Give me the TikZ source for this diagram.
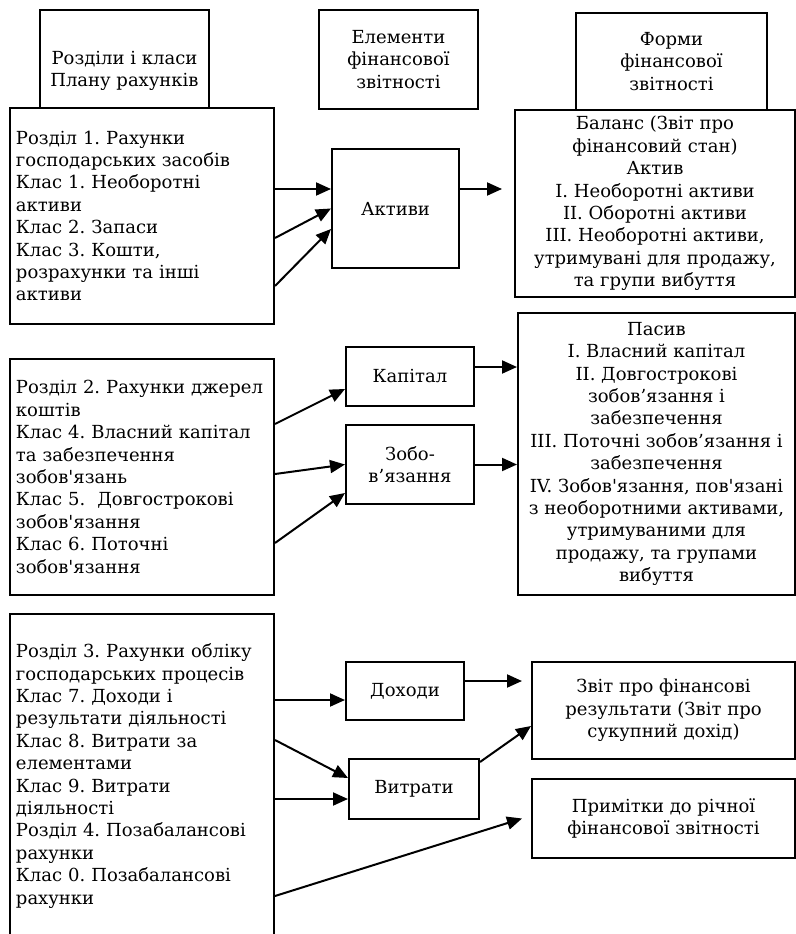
\documentclass[tikz,border=0pt]{standalone}
\usepackage{fontspec}
\setmainfont{DejaVu Serif}[Ligatures=TeXOff]
\usepackage{tikz}
\usetikzlibrary{arrows.meta}
\frenchspacing

\begin{document}
\begin{tikzpicture}[
    x=1pt, y=-1pt,
    >={Triangle[length=15pt, width=13pt]},
    box/.style={draw, line width=2pt, fill=white, align=center, inner sep=0pt,
        font=\fontsize{18}{22.4}\selectfont},
    lbox/.style={box, align=left, text width=252pt, inner xsep=6pt},
    arr/.style={->, line width=2pt}
]
\useasboundingbox (0,0) rectangle (795,934);

% Headers :
\node[box, anchor=north west, minimum width=169pt, minimum height=122pt] (hdrA) at (39,9)
    {Розділи і класи\\Плану рахунків};
\node[box, anchor=north west, minimum width=159pt, minimum height=99pt] (hdrB) at (318,9)
    {Елементи\\фінансової\\звітності};
\node[box, anchor=north west, minimum width=191pt, minimum height=97pt] (hdrC) at (575,12)
    {Форми\\фінансової\\звітності};

% Sections of the chart of accounts :
\node[lbox, anchor=north west, minimum height=216pt] (secA) at (9,107)
    {Розділ 1. Рахунки\\господарських засобів\\Клас 1. Необоротні\\активи\\Клас 2. Запаси\\Клас 3. Кошти,\\розрахунки та інші\\активи};
\node[lbox, anchor=north west, minimum height=236pt] (secB) at (9,358)
    {Розділ 2. Рахунки джерел\\коштів\\Клас 4. Власний капітал\\та забезпечення\\зобов'язань\\Клас 5.\ \ Довгострокові\\зобов'язання\\Клас 6. Поточні\\зобов'язання};
\node[lbox, anchor=north west, minimum height=324pt] (secC) at (9,613)
    {Розділ 3. Рахунки обліку\\господарських процесів\\Клас 7. Доходи і\\результати діяльності\\Клас 8. Витрати за\\елементами\\Клас 9. Витрати\\діяльності\\Розділ 4. Позабалансові\\рахунки\\Клас 0. Позабалансові\\рахунки};

% Elements :
\node[box, anchor=north west, minimum width=127pt, minimum height=119pt] (aktyvy) at (331,148) {Активи};
\node[box, anchor=north west, minimum width=128pt, minimum height=59pt] (kapital) at (345,346) {Капітал};
\node[box, anchor=north west, minimum width=128pt, minimum height=79pt] (zobov) at (345,424) {Зобо-\\в’язання};
\node[box, anchor=north west, minimum width=118pt, minimum height=58pt] (dohody) at (345,661) {Доходи};
\node[box, anchor=north west, minimum width=130pt, minimum height=60pt] (vytraty) at (348,758) {Витрати};

% Forms :
\node[box, anchor=north west, minimum width=280pt, minimum height=187pt] (balans) at (514,109)
    {Баланс (Звіт про\\фінансовий стан)\\Актив\\I. Необоротні активи\\II. Оборотні активи\\III. Необоротні активи,\\утримувані для продажу,\\та групи вибуття};
\node[box, anchor=north west, minimum width=277pt, minimum height=282pt] (pasyv) at (517,312)
    {Пасив\\I. Власний капітал\\II. Довгострокові\\зобов’язання і\\забезпечення\\III. Поточні зобов’язання і\\забезпечення\\IV. Зобов'язання, пов'язані\\з необоротними активами,\\утримуваними для\\продажу, та групами\\вибуття};
\node[box, anchor=north west, minimum width=263pt, minimum height=97pt] (zvit) at (531,661)
    {Звіт про фінансові\\результати (Звіт про\\сукупний дохід)};
\node[box, anchor=north west, minimum width=263pt, minimum height=79pt] (prymitky) at (531,778)
    {Примітки до річної\\фінансової звітності};

% Arrows :
\draw[arr] ([yshift=27pt]secA.east) -- ([yshift=19.5pt]aktyvy.west);
\draw[arr] ([yshift=-22pt]secA.east) -- (aktyvy.west);
\draw[arr] ([yshift=-70pt]secA.east) -- ([yshift=-20.5pt]aktyvy.west);
\draw[arr] ([yshift=19.5pt]aktyvy.east) -- ([xshift=-12pt, yshift=14.5pt]balans.west);

\draw[arr] ([yshift=53pt]secB.east) -- ([yshift=-12.5pt]kapital.west);
\draw[arr] ([yshift=3pt]secB.east) -- (zobov.west);
\draw[arr] ([yshift=-66pt]secB.east) -- ([yshift=-28.5pt]zobov.west);
\draw[arr] ([yshift=9.5pt]kapital.east) coordinate (k1) -- (k1 -| pasyv.west);
\draw[arr] (zobov.east) -- (zobov.east -| pasyv.west);

\draw[arr] ([yshift=76pt]secC.east) -- ([yshift=-9pt]dohody.west);
\draw[arr] ([yshift=36pt]secC.east) -- ([yshift=11pt]vytraty.west);
\draw[arr] ([yshift=-23pt]secC.east) -- ([yshift=-10pt]vytraty.west);
\draw[arr] ([yshift=-120pt]secC.east) -- ([xshift=-9pt]prymitky.west);
\draw[arr] ([yshift=10pt]dohody.east) -- ([xshift=-9pt, yshift=29.5pt]zvit.west);
\draw[arr] ([yshift=-4pt]vytraty.north east) -- ([yshift=-15.5pt]zvit.west);

\end{tikzpicture}
\end{document}
